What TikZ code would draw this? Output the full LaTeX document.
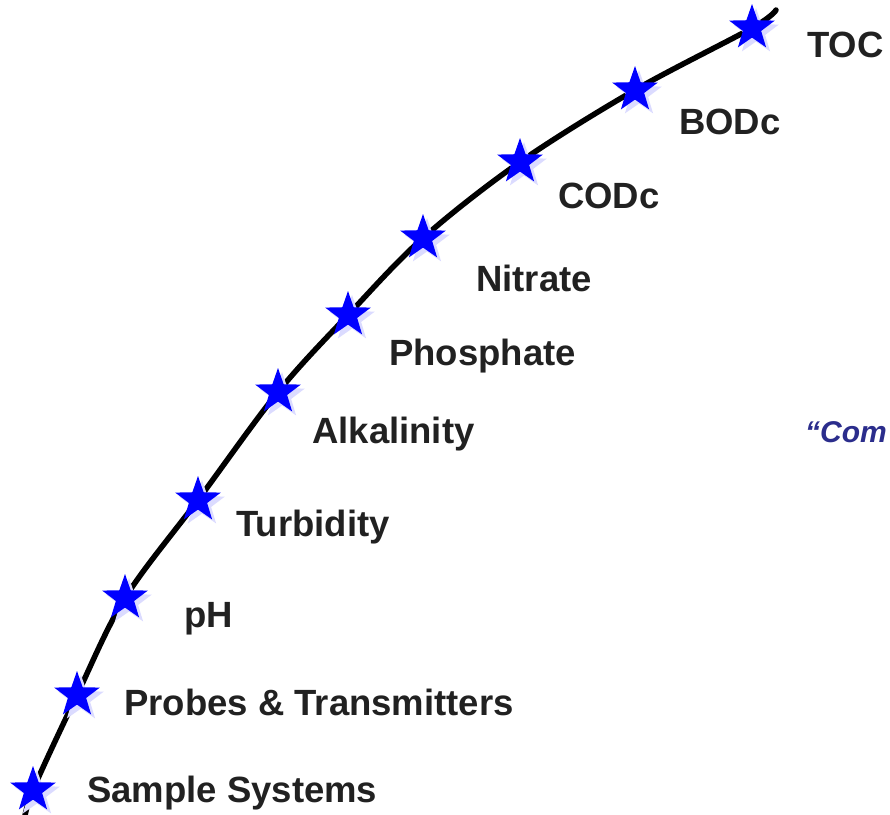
\documentclass[tikz,border=0pt]{standalone}
\usepackage{fontspec}
\setmainfont{Liberation Sans}
\usetikzlibrary{shapes.geometric, shadows}

\pgfdeclarelayer{back}
\pgfsetlayers{back,main}

\begin{document}
\begin{tikzpicture}[x=1pt, y=-1pt,
        milestone/.style={star, star points=5, star point ratio=2.5, minimum size=48pt, inner sep=0pt, fill=blue,
            drop shadow={fill=blue!14, opacity=1, shadow xshift=4pt, shadow yshift=-4pt}},
        stage/.style={anchor=base west, inner sep=0pt, font=\fontsize{36.5}{40}\selectfont\bfseries, text=black!87},
        trend/.style={line width=5.5pt, line cap=round}
    ]
        \useasboundingbox (0,0) rectangle (890,814);
        \clip (0,0) rectangle (890,814);

        % Stars
        \node[milestone] (sample) at (33,790) {};
        \node[milestone] (probes) at (77,695) {};
        \node[milestone] (ph) at (125,598) {};
        \node[milestone] (turbidity) at (198,500) {};
        \node[milestone] (alkalinity) at (278,392) {};
        \node[milestone] (phosphate) at (348,315) {};
        \node[milestone] (nitrate) at (423,238) {};
        \node[milestone] (codc) at (520,162) {};
        \node[milestone] (bodc) at (635,90) {};
        \node[milestone] (toc) at (752,28) {};

        % Curve
        \coordinate (low) at (24,822);
        \coordinate (high) at (776,10);
        \begin{pgfonlayer}{back}
            \draw[trend] plot[smooth, tension=0.55] coordinates {(low) (sample) (probes) (ph) (turbidity) (alkalinity) (phosphate) (nitrate) (codc) (bodc) (toc) (high)};
        \end{pgfonlayer}

        % Labels
        \node[stage] (sampletext) at (87,802) {Sample Systems};
        \node[stage] (probestext) at (124,715) {Probes \& Transmitters};
        \node[stage] (phtext) at (184,627) {pH};
        \node[stage] (turbiditytext) at (236,536) {Turbidity};
        \node[stage] (alkalinitytext) at (312,443) {Alkalinity};
        \node[stage] (phosphatetext) at (389,365) {Phosphate};
        \node[stage] (nitratetext) at (476,291) {Nitrate};
        \node[stage] (codctext) at (558,208) {CODc};
        \node[stage] (bodctext) at (679,134) {BODc};
        \node[stage] (toctext) at (807,57) {TOC};
        \node[anchor=base west, inner sep=0pt, font=\fontsize{30}{34}\selectfont\bfseries\itshape,
            text={rgb,255:red,43;green,45;blue,140}] (quote) at (805,442) {“Com};

    \end{tikzpicture}
\end{document}
